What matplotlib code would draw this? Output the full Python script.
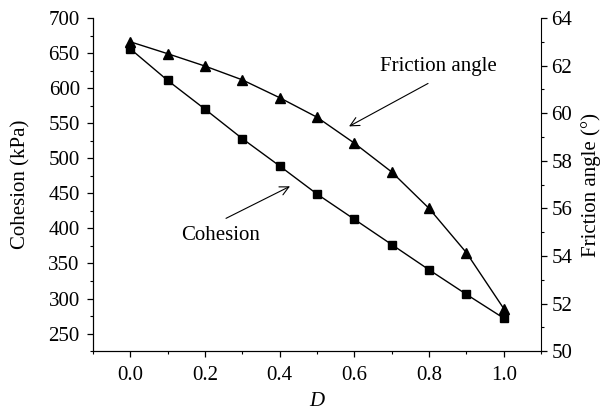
import matplotlib
matplotlib.use("Agg")
import matplotlib.pyplot as plt
from matplotlib.ticker import MultipleLocator

D = [0.0, 0.1, 0.2, 0.3, 0.4, 0.5, 0.6, 0.7, 0.8, 0.9, 1.0]
cohesion = [656, 611, 570, 528, 489, 449, 413, 377, 341, 306, 272]
friction = [63.0, 62.5, 61.98, 61.4, 60.65, 59.83, 58.74, 57.53, 56.0, 54.14, 51.79]

plt.rcParams['font.family'] = ['Liberation Serif', 'DejaVu Serif']
plt.rcParams['font.size'] = 15

fig = plt.figure(figsize=(6.01, 4.16), dpi=100)
ax = fig.add_axes([0.1547, 0.156, 0.9002 - 0.1547, 0.9567 - 0.156])
ax2 = ax.twinx()

ax.plot(D, cohesion, color='black', lw=1.0, marker='s', ms=5.5, zorder=3)
ax2.plot(D, friction, color='black', lw=1.0, marker='^', ms=6.5, zorder=3)

ax.set_xlim(-0.1, 1.1)
ax.set_ylim(225, 700)
ax2.set_ylim(50, 64)

ax.xaxis.set_minor_locator(MultipleLocator(0.1))
ax.yaxis.set_minor_locator(MultipleLocator(25))
ax2.yaxis.set_major_locator(MultipleLocator(2))
ax2.yaxis.set_minor_locator(MultipleLocator(1))
ax.set_xticks([0.0, 0.2, 0.4, 0.6, 0.8, 1.0])
ax.set_xticklabels(['0.0', '0.2', '0.4', '0.6', '0.8', '1.0'])
ax.set_yticks([250, 300, 350, 400, 450, 500, 550, 600, 650, 700])

for a in (ax, ax2):
    a.spines['top'].set_visible(False)
    a.tick_params(which='major', direction='out', length=4.5, width=0.9)
    a.tick_params(which='minor', direction='out', length=2.5, width=0.8)
ax.tick_params(axis='y', pad=5)
ax2.tick_params(axis='y', pad=3)
ax.tick_params(axis='x', pad=6)
ax.spines['right'].set_visible(False)

ax.set_xlabel('D', fontstyle='italic', labelpad=5)
ax.set_ylabel('Cohesion (kPa)', labelpad=13)
ax2.set_ylabel('Friction angle (°)', labelpad=6)

arrow = dict(arrowstyle='->', color='black', lw=0.8, shrinkA=0, shrinkB=0,
             mutation_scale=16)
ax2.text(0.8255, 61.96, 'Friction angle', ha='center', va='center')
ax2.annotate('', xy=(0.5858, 59.445), xytext=(0.7974, 61.25), arrowprops=arrow)
ax.text(0.243, 390, 'Cohesion', ha='center', va='center')
ax.annotate('', xy=(0.4277, 460), xytext=(0.2563, 414.3), arrowprops=arrow)

fig.savefig('out.png', dpi=100)
